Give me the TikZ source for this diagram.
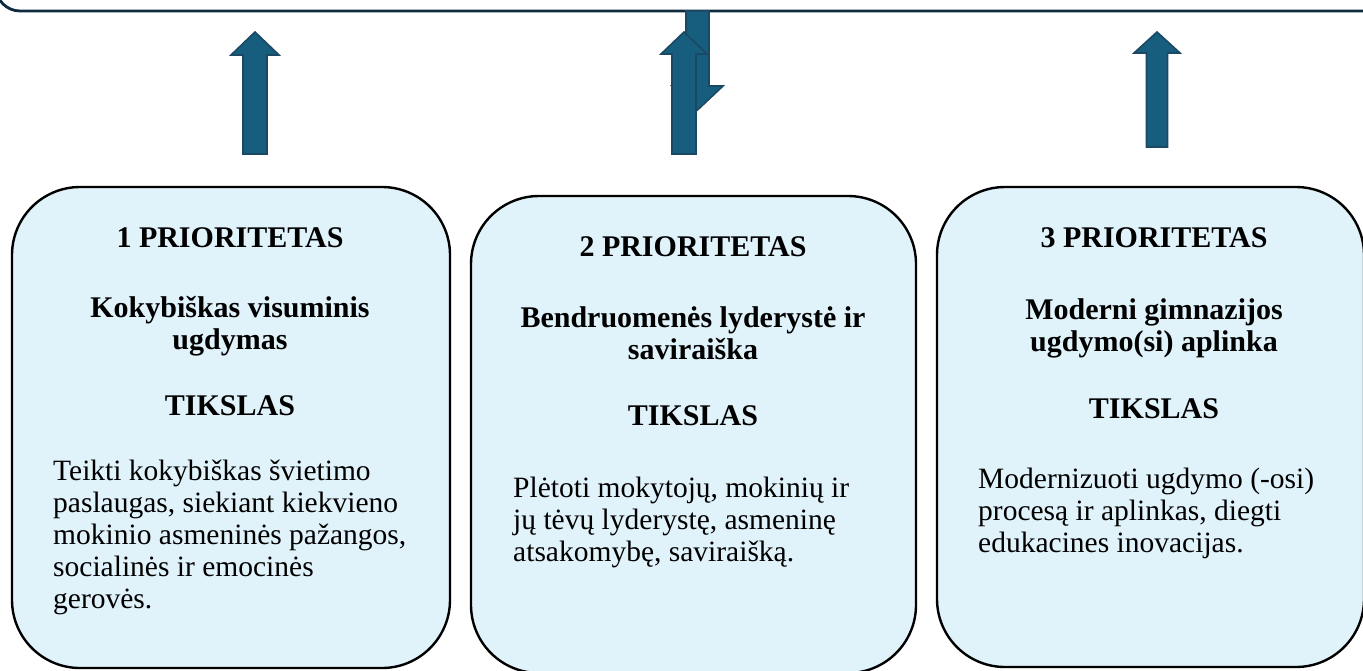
\documentclass[tikz,border=0pt]{standalone}
\usepackage{fontspec}
\setmainfont{Liberation Serif}
\definecolor{boxfill}{HTML}{E0F2FA}
\definecolor{arrowfill}{HTML}{175E7E}
\definecolor{arrowline}{HTML}{1B4863}
\definecolor{topline}{HTML}{0E2B3F}
\tikzset{
  prio/.style={draw=black, line width=2.4pt, fill=boxfill, rounded corners=68pt},
  blockarrow/.style={fill=arrowfill, draw=arrowline, line width=1.6pt, line join=miter},
  ttl/.style={anchor=base, inner sep=0pt, font=\fontsize{30}{32}\selectfont\bfseries},
  body/.style={anchor=base west, inner sep=0pt, font=\fontsize{29.5}{32}\selectfont},
}
\newcommand\myuparrow[6]{% cx, tip, headbase, headhalf, shafthalf, bottom
  \draw[blockarrow] (#1-#5,#6) -- (#1-#5,#3) -- (#1-#4,#3) -- (#1,#2) -- (#1+#4,#3) -- (#1+#5,#3) -- (#1+#5,#6) -- cycle;}
\begin{document}
\begin{tikzpicture}[x=1pt,y=-1pt]
\useasboundingbox (0,0) rectangle (1363,670);
\begin{scope}
\clip (0,0) rectangle (1363,670);
% top box
\draw[draw=topline, line width=2.8pt, rounded corners=24pt] (-4,-200) rectangle (1400,11);
% boxes
\draw[prio] (12,187) rectangle (450,668);
\draw[prio] (471,196) rectangle (916,673);
\draw[prio] (937,187) rectangle (1364,667);
% arrows
\myuparrow{255}{32}{55}{24}{12}{154}
% down arrow
\draw[blockarrow] (697.5-11.5,11) -- (697.5-11.5,86) -- (697.5-25.5,86) -- (697.5,110) -- (697.5+25.5,86) -- (697.5+11.5,86) -- (697.5+11.5,11) -- cycle;
\myuparrow{684}{32}{54}{23}{12}{154}
\myuparrow{1157}{32}{53}{23}{10.5}{147}
\end{scope}
% box 1 text
\node[ttl] (p1) at (230,247) {1 PRIORITETAS};
\node[ttl] (s1a) at (230,317) {Kokybiškas visuminis};
\node[ttl] (s1b) at (230,349) {ugdymas};
\node[ttl] (t1) at (230,415) {TIKSLAS};
\node[body] (b1a) at (53,480) {Teikti kokybiškas švietimo};
\node[body] (b1b) at (53,512) {paslaugas, siekiant kiekvieno};
\node[body] (b1c) at (53,544) {mokinio asmeninės pažangos,};
\node[body] (b1d) at (53,576) {socialinės ir emocinės};
\node[body] (b1e) at (53,608) {gerovės.};
% box 2 text
\node[ttl] (p2) at (693,256) {2 PRIORITETAS};
\node[ttl] (s2a) at (693,327) {Bendruomenės lyderystė ir};
\node[ttl] (s2b) at (693,359) {saviraiška};
\node[ttl] (t2) at (693,425) {TIKSLAS};
\node[body] (b2a) at (513,497) {Plėtoti mokytojų, mokinių ir};
\node[body] (b2b) at (513,529) {jų tėvų lyderystę, asmeninę};
\node[body] (b2c) at (513,561) {atsakomybę, saviraišką.};
% box 3 text
\node[ttl] (p3) at (1154,247) {3 PRIORITETAS};
\node[ttl] (s3a) at (1154,319) {Moderni gimnazijos};
\node[ttl] (s3b) at (1154,351) {ugdymo(si) aplinka};
\node[ttl] (t3) at (1154,418) {TIKSLAS};
\node[body] (b3a) at (978,488) {Modernizuoti ugdymo (-osi)};
\node[body] (b3b) at (978,520) {procesą ir aplinkas, diegti};
\node[body] (b3c) at (978,552) {edukacines inovacijas.};
\end{tikzpicture}
\end{document}
